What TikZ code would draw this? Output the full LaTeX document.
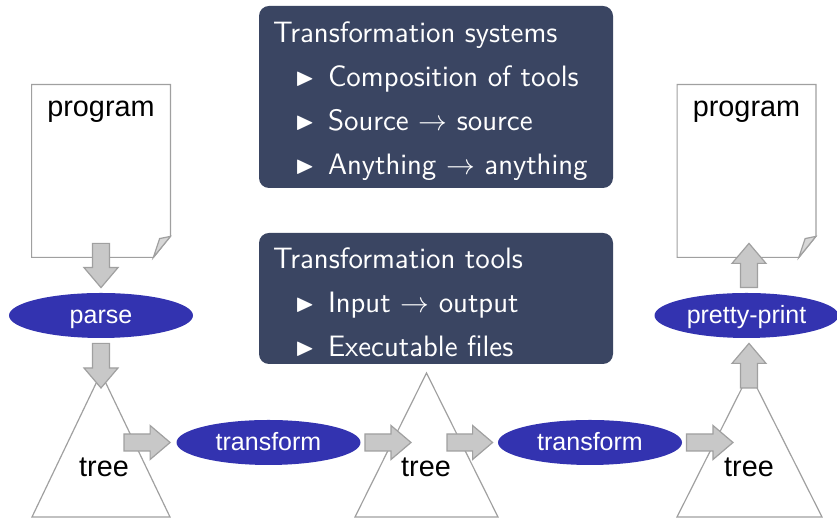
\documentclass[tikz,border=0pt]{standalone}
\usepackage{fontspec}
\usepackage{amssymb}
\usetikzlibrary{shapes.geometric,calc}
\newfontfamily\lsans{Liberation Sans}
\definecolor{boxblue}{RGB}{58,69,98}
\definecolor{opblue}{RGB}{51,51,176}
\definecolor{arrowfill}{RGB}{200,200,200}
\definecolor{arrowline}{RGB}{160,160,160}
\definecolor{shapeline}{RGB}{160,160,160}
\definecolor{foldfill}{RGB}{215,215,215}
\newcommand\bulitem{\hspace*{11pt}\makebox[16.5pt][l]{\raisebox{0.4pt}{\fontsize{12.5}{14}\selectfont$\blacktriangleright$}}}

\tikzset{
  opnode/.style={ellipse, fill=opblue, text=white, minimum width=92pt, minimum height=22.5pt,
    inner sep=0pt, text height=8.5pt, text depth=0pt, font=\lsans\fontsize{12.5}{14}\selectfont},
  labelnode/.style={inner sep=0pt, anchor=base, font=\lsans\fontsize{14.4}{16}\selectfont},
  docnode/.style={minimum width=69pt, minimum height=86pt, inner sep=0pt},
  infobox/.style={fill=boxblue, rounded corners=5pt, minimum width=177pt, inner sep=0pt},
  infotext/.style={anchor=north west, inner sep=0pt, align=left, text=white,
    font=\sffamily\fontsize{14.75}{22}\selectfont},
  shapeedge/.style={draw=shapeline, line width=0.6pt},
  blockarrow/.style={fill=arrowfill, draw=arrowline, line width=0.6pt,
    to path={let \p1=(\tikztostart), \p2=(\tikztotarget), \n1={atan2(\y2-\y1,\x2-\x1)} in
      ($(\p1)+(\n1+90:4.25pt)$) -- ($(\p2)+(\n1+180:10pt)+(\n1+90:4.25pt)$)
      -- ($(\p2)+(\n1+180:10pt)+(\n1+90:8.5pt)$) -- (\p2)
      -- ($(\p2)+(\n1+180:10pt)+(\n1-90:8.5pt)$) -- ($(\p2)+(\n1+180:10pt)+(\n1-90:4.25pt)$)
      -- ($(\p1)+(\n1-90:4.25pt)$) -- cycle}}
}

\begin{document}
\begin{tikzpicture}[x=0.5pt, y=0.5pt]
  \useasboundingbox (0,0) rectangle (837,518);

  % info boxes
  \node[infobox, minimum height=91pt] (sysbox) at (436,421) {};
  \node[infotext] (systext) at ([xshift=7pt,yshift=-8pt]sysbox.north west)
    {Transformation systems\\
     \bulitem Composition of tools\\
     \bulitem Source $\rightarrow$ source\\
     \bulitem Anything $\rightarrow$ anything};
  \node[infobox, minimum height=65.5pt] (toolbox) at (436,219.5) {};
  \node[infotext] (tooltext) at ([xshift=7pt,yshift=-7.5pt]toolbox.north west)
    {Transformation tools\\
     \bulitem Input $\rightarrow$ output\\
     \bulitem Executable files};

  % draw program documents
  \node[docnode] (doc1) at (101,347) {};
  \node[docnode] (doc2) at (746.5,347) {};
  \draw[shapeedge, fill=white] (doc1.north west) -- (doc1.north east) -- ([yshift=10.5pt]doc1.south east)
    -- ([xshift=-8.5pt]doc1.south east) -- (doc1.south west) -- cycle;
  \draw[shapeedge, fill=foldfill] ([yshift=10.5pt]doc1.south east) -- ([xshift=-5.4pt,yshift=9.4pt]doc1.south east)
    -- ([xshift=-8.5pt]doc1.south east) -- cycle;
  \draw[shapeedge, fill=white] (doc2.north west) -- (doc2.north east) -- ([yshift=10.5pt]doc2.south east)
    -- ([xshift=-8.5pt]doc2.south east) -- (doc2.south west) -- cycle;
  \draw[shapeedge, fill=foldfill] ([yshift=10.5pt]doc2.south east) -- ([xshift=-5.4pt,yshift=9.4pt]doc2.south east)
    -- ([xshift=-8.5pt]doc2.south east) -- cycle;
  \node[labelnode] (prog1) at (101,401) {program};
  \node[labelnode] (prog2) at (746.5,401) {program};

  % draw trees
  \draw[shapeedge, fill=white] (32,1) -- (101,145) -- (170,1) -- cycle;
  \draw[shapeedge, fill=white] (355,1) -- (426.5,145) -- (498,1) -- cycle;
  \draw[shapeedge, fill=white] (677,1) -- (749.5,145) -- (822,1) -- cycle;
  \node[labelnode] (tree1) at (104,41) {tree};
  \node[labelnode] (tree2) at (426,41) {tree};
  \node[labelnode] (tree3) at (749,41) {tree};
  \coordinate (tree1in) at (101,130);
  \coordinate (tree1out) at (124,75.5);
  \coordinate (tree2in) at (411,75.5);
  \coordinate (tree2out) at (447,75.5);
  \coordinate (tree3in) at (733,75.5);
  \coordinate (tree3out) at (749,130);

  % operations
  \node[opnode] (parse) at (101,202.5) {parse};
  \node[opnode] (trans1) at (268.5,75.5) {transform};
  \node[opnode] (trans2) at (590,75.5) {transform};
  \node[opnode] (pretty) at (746.5,202.5) {pretty-print};

  % block arrows
  \draw[blockarrow] ([yshift=7pt]doc1.south) to ([yshift=2.5pt]parse.north);
  \draw[blockarrow] ([yshift=-2.5pt]parse.south) to (tree1in);
  \draw[blockarrow] (tree1out) to ([xshift=-3pt]trans1.west);
  \draw[blockarrow] ([xshift=2pt]trans1.east) to (tree2in);
  \draw[blockarrow] (tree2out) to ([xshift=-2.5pt]trans2.west);
  \draw[blockarrow] ([xshift=2pt]trans2.east) to (tree3in);
  \draw[blockarrow] (tree3out) to ([xshift=1.25pt,yshift=-2.5pt]pretty.south);
  \draw[blockarrow] ([xshift=1.25pt,yshift=2.5pt]pretty.north) to ([xshift=1.25pt,yshift=7pt]doc2.south);
\end{tikzpicture}
\end{document}
